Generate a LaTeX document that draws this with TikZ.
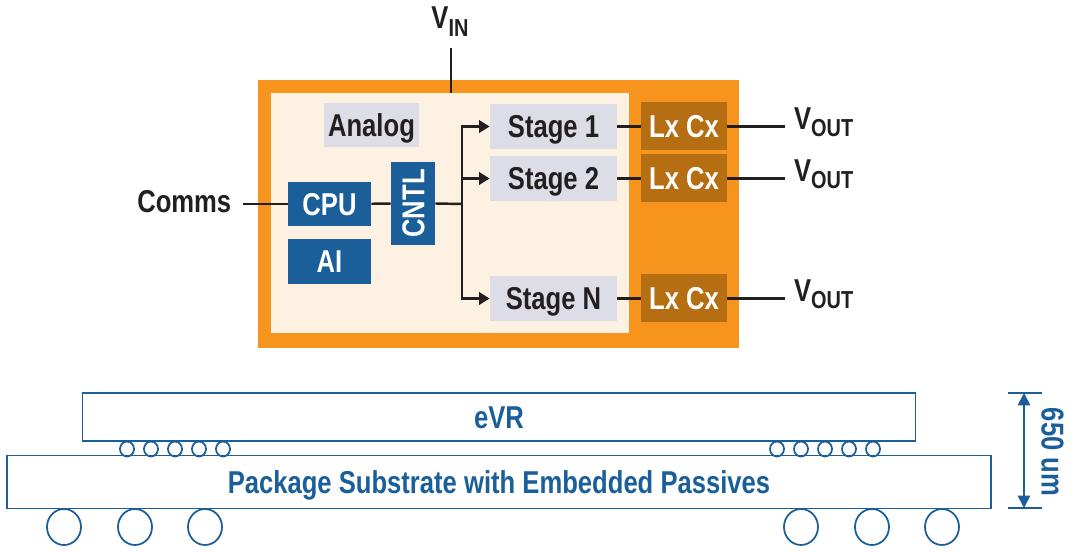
\documentclass[tikz,border=0pt]{standalone}
\usepackage{fontspec}
\setmainfont{Liberation Sans}[FakeStretch=0.81]
\usetikzlibrary{arrows.meta}
\definecolor{vrorange}{HTML}{F7941E}
\definecolor{vrcream}{HTML}{FDF1E2}
\definecolor{vrgray}{HTML}{DDDDE8}
\definecolor{vrblue}{HTML}{1A5E9A}
\definecolor{vrbrown}{HTML}{B66E12}
\definecolor{vrtext}{HTML}{231F20}
\newcommand{\vsub}[1]{V\raisebox{-4pt}{\fontsize{14}{14}\selectfont #1}}
\tikzset{
    blk/.style={inner sep=0pt, text height=12.9pt, text depth=0pt, font=\bfseries\fontsize{18}{20}\selectfont},
    ctrl/.style={blk, fill=vrblue, text=white},
    stagebox/.style={blk, fill=vrgray, text=vrtext, minimum width=127*0.02cm, minimum height=45*0.02cm},
    lcbox/.style={blk, fill=vrbrown, text=white, minimum width=86*0.02cm, minimum height=48*0.02cm},
    wire/.style={draw=vrtext, line width=1.4pt},
    pkg/.style={draw=vrblue, line width=1pt},
}
\begin{document}
\begin{tikzpicture}[x=0.02cm, y=-0.02cm]
        \useasboundingbox (0,0) rectangle (1080,553);
        % Draw chip
        \fill[vrorange] (258,80) rectangle (739,348);
        \node[fill=vrcream, minimum width=358*0.02cm, minimum height=240*0.02cm, inner sep=0pt] (inner) at (450,213) {};
        % Draw VIN
        \node[font=\bfseries\fontsize{18}{20}\selectfont, inner sep=0pt, text=vrtext, anchor=base] (vin) at (450,29) {\vsub{IN}};
        \coordinate (vintop) at (451,48);
        \draw[wire] (vintop) -- (vintop |- inner.north);
        % Draw control blocks
        \node[blk, fill=vrgray, text=vrtext, minimum width=95*0.02cm, minimum height=44*0.02cm] (analog) at (371.5,125) {Analog};
        \node[ctrl, minimum width=83*0.02cm, minimum height=44*0.02cm] (cpu) at (329.5,204) {CPU};
        \node[ctrl, minimum width=83*0.02cm, minimum height=45*0.02cm] (ai) at (329.5,261.5) {AI};
        \node[ctrl, minimum width=83*0.02cm, minimum height=44*0.02cm, rotate=90] (cntl) at (413,203.5) {CNTL};
        \node[blk, text=vrtext, inner sep=6.5pt, anchor=east] (comms) at (243,201) {Comms};
        \draw[wire] (comms.east |- cpu) -- (cpu);
        \draw[wire] (cpu) -- (cntl);
        \coordinate (br) at (462,204);
        \draw[wire] (cntl.south) -- (br);
        % Draw stages
        \foreach \y/\i/\t in {126.5/1/Stage 1, 178.5/2/Stage 2, 298.5/3/Stage N} {
            \node[stagebox] (s\i) at (553.5,\y) {\t};
            \node[lcbox] (lc\i) at (684,\y) {Lx Cx};
            \node[font=\bfseries\fontsize{18}{20}\selectfont, text=vrtext, anchor=west, inner sep=5pt] (vout\i) at (785,\y-4) {\vsub{OUT}};
            \draw[wire, -{Triangle[length=6pt, width=7pt]}] (br) |- (s\i);
            \draw[wire] (s\i) -- (lc\i);
            \draw[wire] (lc\i) -- (lc\i.east -| vout\i.west);
        }
        % Draw package
        \node[pkg, blk, minimum width=833*0.02cm, minimum height=48*0.02cm, text=vrblue] (evr) at (499,417) {eVR};
        \node[pkg, blk, minimum width=984*0.02cm, minimum height=53*0.02cm, text=vrblue] (sub) at (499,482) {Package Substrate with Embedded Passives};
        % Small bumps
        \foreach \x in {127,151,175,199,223,777,801,825,849,873} {
            \draw[pkg] (\x,449) ellipse (7 and 7.5);
        }
        % Large balls
        \foreach \x in {64,135,205,801,872,942} {
            \draw[pkg] (\x,527) ellipse (17 and 18);
        }
        % Draw scale
        \coordinate (dtop) at (1024,393);
        \coordinate (dbot) at (1024,508);
        \draw[pkg] ([xshift=-16*0.02cm]dtop) -- ([xshift=18*0.02cm]dtop);
        \draw[pkg] ([xshift=-16*0.02cm]dbot) -- ([xshift=18*0.02cm]dbot);
        \draw[pkg, {Triangle[length=7pt, width=7pt]}-{Triangle[length=7pt, width=7pt]}] (dtop) -- (dbot);
        \node[blk, text=vrblue, rotate=-90] (dim) at (1053,452) {650 um};
    \end{tikzpicture}
\end{document}
